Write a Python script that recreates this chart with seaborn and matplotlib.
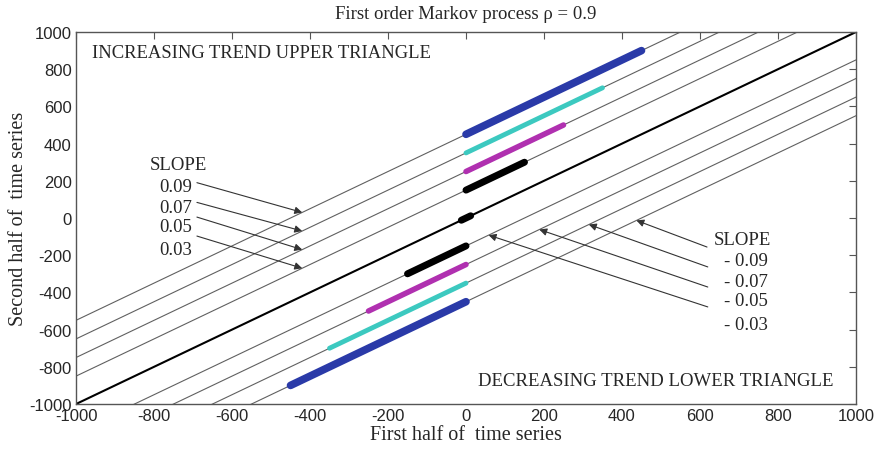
import numpy as np
import pandas as pd
import seaborn as sns
import matplotlib.pyplot as plt

# thin reference lines y = x + offset
line_offsets = [450, 350, 250, 150, -150, -250, -350, -450]
line_x = [-1000, 1000]

# thick coloured segments (start/end points)
seg_colors = ['#2a3aa8', '#3cc9c0', '#b030b0', 'black']
seg_widths = [5.5, 3.5, 4.0, 5.0]
up_x0 = [0, 0, 0, 0]
up_x1 = [450, 350, 250, 150]
up_y0 = [450, 350, 250, 150]
up_y1 = [900, 700, 500, 300]
lo_x0 = [-450, -350, -250, -150]
lo_x1 = [0, 0, 0, 0]
lo_y0 = [-900, -700, -500, -300]
lo_y1 = [-450, -350, -250, -150]
dot_x = [-12, 12]
dot_y = [-12, 12]

# slope labels and arrows
up_labels = ['0.09', '0.07', '0.05', '0.03']
up_label_y = [172, 59, -48, -167]
up_tail = [(-690, 190), (-690, 84), (-690, 5), (-690, -97)]
up_head = [(-420, 30), (-420, -70), (-420, -170), (-420, -270)]

lo_labels = ['- 0.09', '- 0.07', '- 0.05', '- 0.03']
lo_label_y = [-231, -339, -446, -570]
lo_tail = [(618, -156), (620, -263), (620, -371), (620, -478)]
lo_head = [(437, -13), (315, -35), (188, -62), (58, -92)]

ticks = np.arange(-1000, 1001, 200)

sns.set_style('white')
plt.rcParams['font.family'] = ['Liberation Sans', 'DejaVu Sans']
plt.rcParams['axes.unicode_minus'] = False
serif = ['Liberation Serif', 'DejaVu Serif']

fig = plt.figure(figsize=(8.8, 4.56), dpi=100)
ax = fig.add_axes([0.0864, 0.1118, 0.8863, 0.8158])

for off in line_offsets:
    df = pd.DataFrame({'x': line_x, 'y': [v + off for v in line_x]})
    sns.lineplot(data=df, x='x', y='y', ax=ax, color='#606060', lw=0.8,
                 sort=False, estimator=None)
sns.lineplot(x=line_x, y=line_x, ax=ax, color='black', lw=1.5, sort=False, estimator=None)

for i in range(4):
    sns.lineplot(x=[up_x0[i], up_x1[i]], y=[up_y0[i], up_y1[i]], ax=ax,
                 color=seg_colors[i], lw=seg_widths[i], sort=False, estimator=None,
                 solid_capstyle='round')
    sns.lineplot(x=[lo_x0[i], lo_x1[i]], y=[lo_y0[i], lo_y1[i]], ax=ax,
                 color=seg_colors[i], lw=seg_widths[i], sort=False, estimator=None,
                 solid_capstyle='round')
sns.lineplot(x=dot_x, y=dot_y, ax=ax, color='black', lw=5, sort=False, estimator=None,
             solid_capstyle='round')

arrow = dict(arrowstyle='-|>', lw=0.8, color='#333333', mutation_scale=11,
             shrinkA=0, shrinkB=0)
ax.text(-810, 290, 'SLOPE', family=serif, fontsize=13.5, va='center')
for lab, ly, t, h in zip(up_labels, up_label_y, up_tail, up_head):
    ax.text(-787, ly, lab, family=serif, fontsize=13.5, va='center')
    ax.annotate('', xy=h, xytext=t, arrowprops=arrow)

ax.text(636, -113, 'SLOPE', family=serif, fontsize=13.5, va='center')
for lab, ly, t, h in zip(lo_labels, lo_label_y, lo_tail, lo_head):
    ax.text(662, ly, lab, family=serif, fontsize=13.5, va='center')
    ax.annotate('', xy=h, xytext=t, arrowprops=arrow)

ax.text(-959, 892, 'INCREASING TREND UPPER TRIANGLE', family=serif, fontsize=13.4, va='center')
ax.text(31, -871, 'DECREASING TREND LOWER TRIANGLE', family=serif, fontsize=13.5, va='center')

ax.set_xlim(-1000, 1000)
ax.set_ylim(-1000, 1000)
ax.set_xticks(ticks)
ax.set_yticks(ticks)
ax.tick_params(direction='in', length=5, width=0.8, color='#555555', labelsize=12,
               top=True, right=True, pad=3)
for s in ax.spines.values():
    s.set_color('#555555')
    s.set_linewidth(1.0)

ax.set_title('First order Markov process ρ = 0.9', family=serif, fontsize=13.5, pad=10)
ax.set_xlabel('First half of  time series', family=serif, fontsize=14.5, labelpad=1)
ax.set_ylabel('Second half of  time series', family=serif, fontsize=14.5, labelpad=1)

fig.savefig('out.png', dpi=100)
